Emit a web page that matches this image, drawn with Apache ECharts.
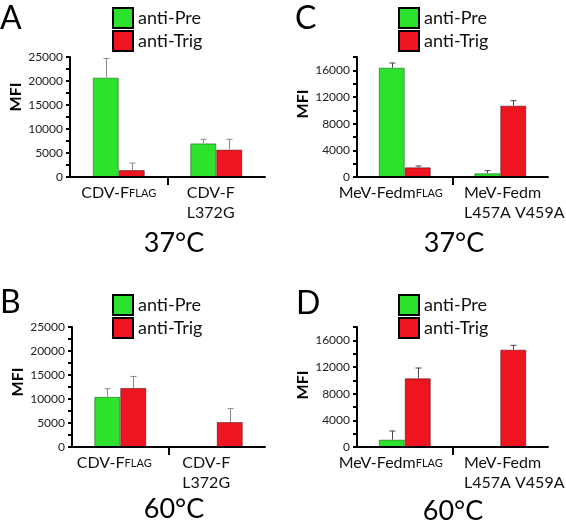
<!DOCTYPE html>
<html>
<head>
<meta charset="utf-8">
<script src="https://cdn.jsdelivr.net/npm/echarts@6/dist/echarts.min.js"></script>
<style>
html,body{margin:0;padding:0;background:#fff;}
#main{width:566px;height:525px;}
</style>
</head>
<body>
<div id="main"></div>
<script>
// ---- data ----
const seriesNames = ['anti-Pre', 'anti-Trig'];
const panelLetters = ['A', 'B', 'C', 'D'];
const temperatures = ['37°C', '60°C', '37°C', '60°C'];
const catsCDV = ['CDV-F{s|FLAG}', '{l|CDV-F}\n{l|L372G}'];
const catsMeV = ['MeV-Fedm{s|FLAG}', '{l|MeV-Fedm}\n{l|L457A V459A}'];

// Panel A (CDV, 37°C)
const preA = [20700, 7000];
const preErrA = [24700, 7850];
const trigA = [1450, 5700];
const trigErrA = [2900, 7850];
// Panel B (CDV, 60°C)
const preB = [10450, null];
const preErrB = [12150, null];
const trigB = [12300, 5200];
const trigErrB = [14700, 8000];
// Panel C (MeV, 37°C)
const preC = [16400, 560];
const preErrC = [17100, 950];
const trigC = [1450, 10700];
const trigErrC = [1650, 11450];
// Panel D (MeV, 60°C)
const preD = [1100, null];
const preErrD = [2400, null];
const trigD = [10300, 14600];
const trigErrD = [11850, 15250];

// y axis tick setup
const yMaxCDV = 25000, yMinorCDV = 2500, yMajorCDV = 5000;
const yMaxMeV = 18000, yMinorMeV = 2000, yMajorMeV = 4000;

// ---- styling / layout ----
const FONT = 'Lato, "Open Sans", sans-serif';
const GREEN = '#2ce22c';
const RED = '#ee1520';

const panels = [
  {letter: 0, cats: catsCDV, pre: preA, preErr: preErrA, trig: trigA, trigErr: trigErrA,
   yMax: yMaxCDV, yMinor: yMinorCDV, yMajor: yMajorCDV,
   grid: {left: 70, top: 57, width: 195, height: 120},
   labelPad: [[0, 0, 0, 0], [0, 11, 0, 0]], namePad: 40, errColor: '#8a8a8a',
   letterPos: [0, 19], tempPos: [174, 243], legendPos: [112, 7]},
  {letter: 1, cats: catsCDV, pre: preB, preErr: preErrB, trig: trigB, trigErr: trigErrB,
   yMax: yMaxCDV, yMinor: yMinorCDV, yMajor: yMajorCDV,
   grid: {left: 72, top: 327, width: 193, height: 120},
   labelPad: [[0, 12, 0, 0], [0, 21, 0, 0]], namePad: 10, errColor: '#8a8a8a',
   letterPos: [0, 303], tempPos: [174, 509], legendPos: [112, 294]},
  {letter: 2, cats: catsMeV, pre: preC, preErr: preErrC, trig: trigC, trigErr: trigErrC,
   yMax: yMaxMeV, yMinor: yMinorMeV, yMajor: yMajorMeV,
   grid: {left: 357, top: 57, width: 191, height: 120},
   labelPad: [[0, 28, 0, 0], [0, 0, 0, 28]], namePad: 26, errColor: '#444',
   letterPos: [295, 19], tempPos: [454, 243], legendPos: [398, 7]},
  {letter: 3, cats: catsMeV, pre: preD, preErr: preErrD, trig: trigD, trigErr: trigErrD,
   yMax: yMaxMeV, yMinor: yMinorMeV, yMajor: yMajorMeV,
   grid: {left: 357, top: 327, width: 191, height: 120},
   labelPad: [[0, 28, 0, 0], [0, 0, 0, 28]], namePad: 4, errColor: '#444',
   letterPos: [296, 304], tempPos: [453, 511], legendPos: [398, 294]}
];

function errRender(offset, color) {
  return function (params, api) {
    const i = api.value(0), top = api.value(1), base = api.value(2);
    const p1 = api.coord([i, base]);
    const p2 = api.coord([i, top]);
    const x = Math.round(p1[0] + offset) + 0.5;
    return {
      type: 'group',
      children: [
        {type: 'line', shape: {x1: x, y1: p1[1], x2: x, y2: p2[1]}, style: {stroke: color, lineWidth: 1}},
        {type: 'line', shape: {x1: x - 3, y1: p2[1], x2: x + 3, y2: p2[1]}, style: {stroke: color, lineWidth: 1}}
      ]
    };
  };
}

function errData(vals, errs) {
  const out = [];
  vals.forEach((v, i) => { if (v != null && errs[i] != null) out.push([i, errs[i], v]); });
  return out;
}

const grid = [], xAxis = [], yAxis = [], series = [], legend = [], graphic = [];

panels.forEach((p, k) => {
  grid.push(Object.assign({outerBoundsMode: 'none', containLabel: false}, p.grid));
  xAxis.push({
    type: 'category', gridIndex: k,
    data: p.cats.map((c, i) => ({value: c, textStyle: {padding: p.labelPad[i]}})),
    axisLine: {show: true, lineStyle: {color: '#000', width: 2}},
    axisTick: {show: false},
    axisLabel: {
      interval: 0, margin: 6, fontSize: 16, lineHeight: 20, color: '#111', fontFamily: FONT,
      rich: {s: {fontSize: 11, fontFamily: FONT, color: '#111'}, l: {align: 'left', fontSize: 16, lineHeight: 20, fontFamily: FONT, color: '#111'}}
    },
    z: 5
  });
  yAxis.push({
    type: 'value', gridIndex: k, min: 0, max: p.yMax, interval: p.yMinor,
    axisLine: {show: true, lineStyle: {color: '#000', width: 2}},
    axisTick: {show: true, length: 4, lineStyle: {color: '#000', width: 2}},
    splitLine: {show: false},
    axisLabel: {
      formatter: v => (v % p.yMajor === 0 ? String(v) : ''),
      fontSize: 12, color: '#222', margin: 7, fontFamily: FONT
    },
    name: 'MFI', nameLocation: 'middle', nameGap: 44,
    nameTextStyle: {fontWeight: 'bold', fontSize: 16, color: '#000', fontFamily: FONT, padding: [0, 0, 0, p.namePad]}
  });
  series.push({
    name: seriesNames[0], type: 'bar', xAxisIndex: k, yAxisIndex: k,
    data: p.pre, barWidth: 26, barGap: '0%',
    itemStyle: {color: GREEN, borderColor: 'rgba(0,60,0,0.45)', borderWidth: 1}
  });
  series.push({
    name: seriesNames[1], type: 'bar', xAxisIndex: k, yAxisIndex: k,
    data: p.trig, barWidth: 26, barGap: '0%',
    itemStyle: {color: RED, borderColor: 'rgba(60,0,0,0.5)', borderWidth: 1}
  });
  series.push({
    type: 'custom', xAxisIndex: k, yAxisIndex: k, z: 10,
    renderItem: errRender(-13, p.errColor), encode: {x: 0, y: [1, 2]},
    data: errData(p.pre, p.preErr), silent: true
  });
  series.push({
    type: 'custom', xAxisIndex: k, yAxisIndex: k, z: 10,
    renderItem: errRender(13, p.errColor), encode: {x: 0, y: [1, 2]},
    data: errData(p.trig, p.trigErr), silent: true
  });
  legend.push({
    orient: 'vertical', left: p.legendPos[0], top: p.legendPos[1], padding: 0,
    itemWidth: 20, itemHeight: 20, itemGap: 1, icon: 'rect', selectedMode: false,
    data: seriesNames,
    itemStyle: {borderColor: '#000', borderWidth: 2},
    textStyle: {fontSize: 18, color: '#111', fontFamily: FONT}
  });
  graphic.push({
    type: 'text', x: p.letterPos[0], y: p.letterPos[1],
    style: {text: panelLetters[p.letter], fontSize: 32, fontFamily: FONT, fill: '#000', align: 'left', verticalAlign: 'middle'}
  });
  graphic.push({
    type: 'text', x: p.tempPos[0], y: p.tempPos[1],
    style: {text: temperatures[p.letter], fontSize: 27, fontFamily: FONT, fill: '#000', align: 'center', verticalAlign: 'middle'}
  });
});

// divider axes: one tick between the two categories
panels.forEach((p, k) => {
  xAxis.push({
    type: 'value', gridIndex: k, min: 0, max: 2, interval: 1, position: 'bottom',
    axisLine: {show: false}, axisLabel: {show: false}, splitLine: {show: false},
    axisTick: {show: true, length: 8, customValues: [1], lineStyle: {color: '#000', width: 2}}
  });
});

const chart = echarts.init(document.getElementById('main'), null, {renderer: 'canvas'});
chart.setOption({
  animation: false,
  backgroundColor: '#fff',
  textStyle: {fontFamily: FONT},
  grid, xAxis, yAxis, series, legend, graphic
});
</script>
</body>
</html>
